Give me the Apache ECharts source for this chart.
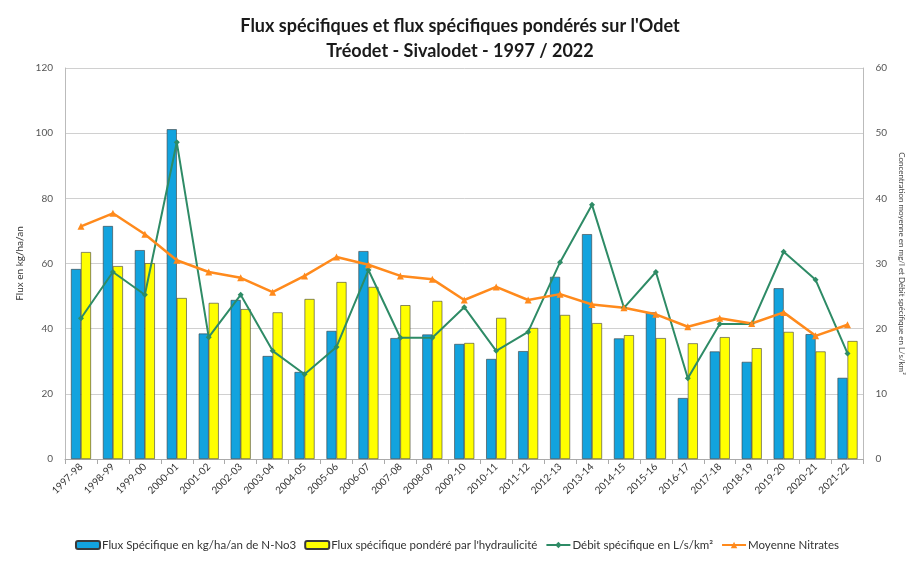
<!DOCTYPE html>
<html>
<head>
<meta charset="utf-8">
<script src="https://cdn.jsdelivr.net/npm/echarts@6/dist/echarts.min.js"></script>
<style>
  html, body { margin: 0; padding: 0; background: #fff; }
  #myChart { width: 914px; height: 562px; }
</style>
</head>
<body>
<div id="myChart"></div>
<script>
// campagnes
const years = ['1997-98', '1998-99', '1999-00', '2000-01', '2001-02', '2002-03', '2003-04', '2004-05',
  '2005-06', '2006-07', '2007-08', '2008-09', '2009-10', '2010-11', '2011-12', '2012-13', '2013-14',
  '2014-15', '2015-16', '2016-17', '2017-18', '2018-19', '2019-20', '2020-21', '2021-22']
// flux spécifique kg/ha/an N-NO3 (axe gauche)
const fluxSpe = [58.3, 71.5, 64.1, 101.2, 38.5, 48.8, 31.6, 26.7, 39.3, 63.8, 37.1, 38.2, 35.3, 30.7,
  33.1, 55.9, 69, 37, 45, 18.7, 33, 29.8, 52.4, 38.3, 24.9]
// flux spécifique pondéré par l'hydraulicité (axe gauche)
const fluxPond = [63.5, 59.2, 60.1, 49.4, 47.9, 46, 45, 49.1, 54.3, 52.8, 47.2, 48.5, 35.6, 43.3,
  40.2, 44.2, 41.7, 38, 37.1, 35.5, 37.4, 34, 39, 33, 36.2]
// débit spécifique L/s/km² (axe droit)
const debit = [21.6, 28.7, 25.2, 48.6, 18.7, 25.2, 16.6, 13, 17.2, 29, 18.6, 18.6, 23.3, 16.6,
  19.5, 30.2, 39, 23.2, 28.7, 12.4, 20.7, 20.7, 31.8, 27.5, 16.2]
// moyenne nitrates mg/l (axe droit)
const nitrates = [35.7, 37.7, 34.5, 30.5, 28.7, 27.8, 25.6, 28.1, 31, 29.8, 28.1, 27.6, 24.4, 26.4,
  24.4, 25.3, 23.7, 23.2, 22.2, 20.3, 21.6, 20.8, 22.5, 18.9, 20.6]

const font = 'Lato, "Open Sans", sans-serif'

let myChart = echarts.init(document.getElementById('myChart'))
myChart.setOption({
  textStyle: { fontFamily: font },
  title: {
    text: 'Flux spécifiques et flux spécifiques pondérés sur l\'Odet\nTréodet - Sivalodet - 1997 / 2022',
    left: 455,
    textAlign: 'center',
    top: 9,
    textStyle: { fontSize: 18, fontWeight: 'bold', color: '#1a1a1a', lineHeight: 25, fontFamily: font }
  },
  legend: {
    bottom: 6,
    left: 'center',
    itemGap: 8,
    itemWidth: 24,
    itemHeight: 8,
    textStyle: { fontSize: 11.5, color: '#333', padding: [0, 0, 0, -3] },
    data: [
      { name: 'Flux Spécifique en kg/ha/an de N-No3' },
      { name: 'Flux spécifique pondéré par l\'hydraulicité' },
      { name: 'Débit spécifique en L/s/km²' },
      { name: 'Moyenne Nitrates' }
    ]
  },
  grid: { left: 65, right: 48, top: 68, bottom: 103 },
  xAxis: {
    type: 'category',
    data: years,
    axisLine: { lineStyle: { color: '#aaa' } },
    axisTick: { show: true, alignWithLabel: false, lineStyle: { color: '#aaa' } },
    axisLabel: { interval: 0, rotate: 45, fontSize: 10, color: '#333', margin: 6 }
  },
  yAxis: [
    {
      type: 'value',
      name: 'Flux en kg/ha/an',
      nameLocation: 'middle',
      nameRotate: 90,
      nameGap: 31,
      nameTextStyle: { fontSize: 10, color: '#333' },
      min: 0, max: 120, interval: 20,
      axisLine: { show: true, lineStyle: { color: '#bbb' } },
      axisLabel: { fontSize: 10, color: '#555', margin: 12 },
      splitLine: { lineStyle: { color: '#d0d0d0' } }
    },
    {
      type: 'value',
      name: 'Concentration moyenne en mg/l et Débit spécifique en L/s/km²',
      nameLocation: 'middle',
      nameRotate: -90,
      nameGap: 34,
      nameTextStyle: { fontSize: 8, color: '#444' },
      min: 0, max: 60, interval: 10,
      axisLine: { show: true, lineStyle: { color: '#bbb' } },
      axisLabel: { fontSize: 10, color: '#555', margin: 12 },
      splitLine: { show: false }
    }
  ],
  series: [
    {
      name: 'Flux Spécifique en kg/ha/an de N-No3',
      type: 'bar',
      data: fluxSpe,
      barWidth: 10,
      barGap: '0%',
      itemStyle: { color: '#12a3de', borderColor: '#3a3a3a', borderWidth: 0.6 }
    },
    {
      name: 'Flux spécifique pondéré par l\'hydraulicité',
      type: 'bar',
      data: fluxPond,
      barWidth: 10,
      itemStyle: { color: '#ffff00', borderColor: '#3a3a3a', borderWidth: 0.6 }
    },
    {
      name: 'Débit spécifique en L/s/km²',
      type: 'line',
      yAxisIndex: 1,
      data: debit,
      symbol: 'diamond',
      symbolSize: 6,
      itemStyle: { color: '#2e8b66' },
      lineStyle: { color: '#2e8b66', width: 2 }
    },
    {
      name: 'Moyenne Nitrates',
      type: 'line',
      yAxisIndex: 1,
      data: nitrates,
      symbol: 'triangle',
      symbolSize: 7,
      itemStyle: { color: '#ff8a1c' },
      lineStyle: { color: '#ff8a1c', width: 2.5 }
    }
  ]
}, true)
</script>
</body>
</html>
